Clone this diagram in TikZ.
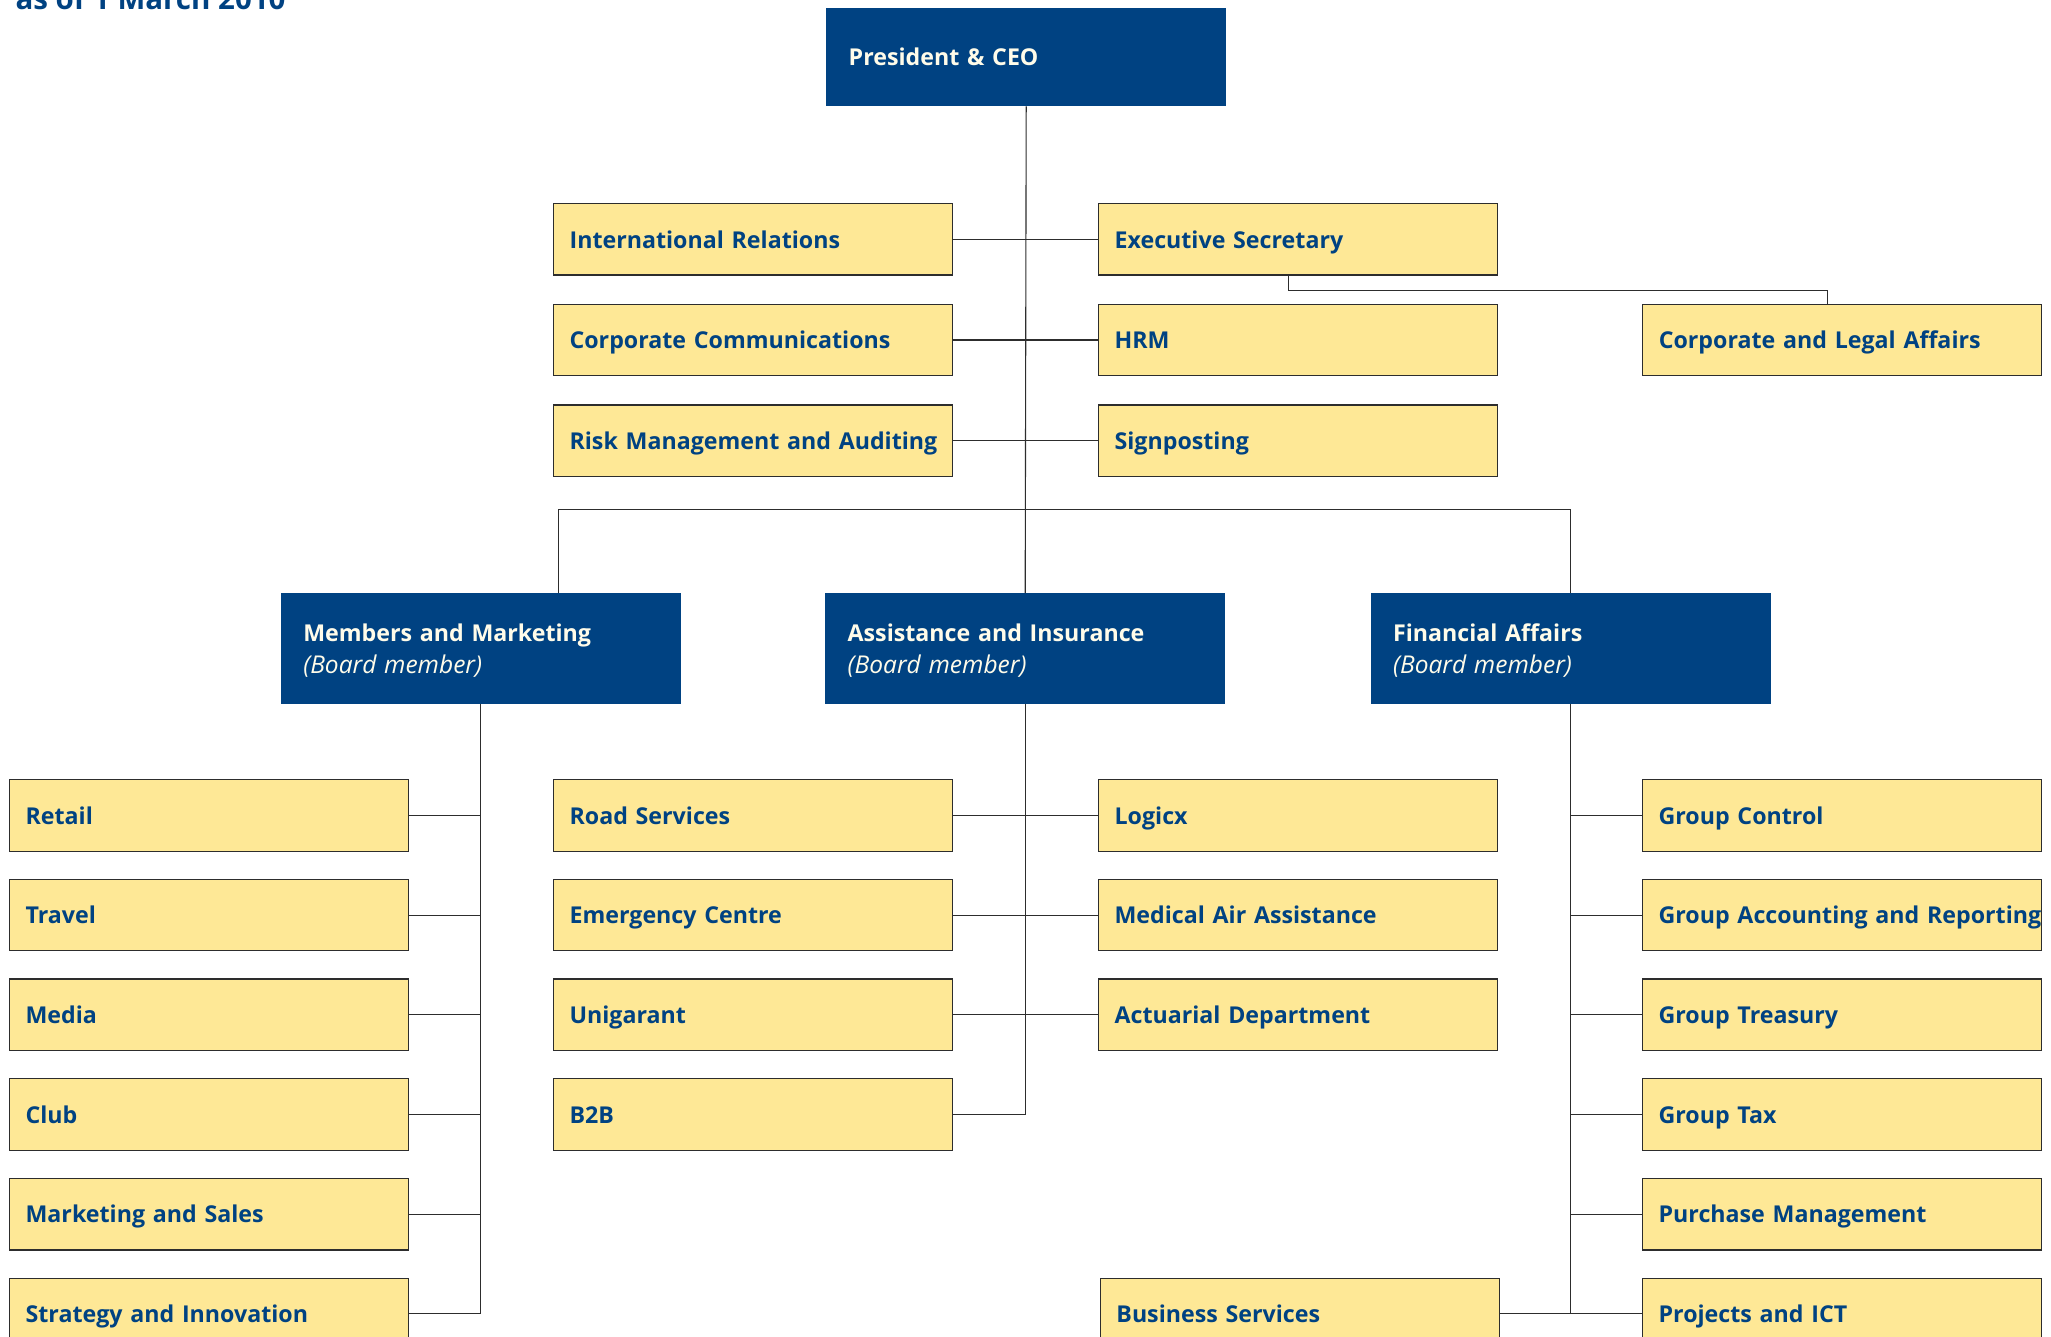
\documentclass[tikz,border=0pt]{standalone}
\usepackage{fontspec}
\setmainfont{Open Sans}
\usepackage{tikz}
\usetikzlibrary{positioning,calc}
\definecolor{adacblue}{RGB}{0,66,130}
\definecolor{unityellow}{RGB}{254,232,150}
\definecolor{headtext}{RGB}{255,252,234}
\definecolor{linegray}{RGB}{45,45,45}

\begin{document}
\begin{tikzpicture}[
    x=1pt, y=-1pt,
    unit/.style={draw=linegray, line width=1.2pt, fill=unityellow, text=adacblue, minimum height=71.5pt, text width=367pt, text height=17.5pt, text depth=0pt, inner xsep=16pt, align=left, font=\bfseries\fontsize{23.2}{27}\selectfont},
    head/.style={fill=adacblue, text=headtext, minimum height=#1, text width=355pt, inner xsep=22.5pt, align=left, font=\fontsize{23.2}{31.5}\selectfont},
    board/.style={head=111pt, text height=21pt, text depth=34.5pt},
    link/.style={draw=linegray, line width=1.1pt},
]
    \useasboundingbox (0,0) rectangle (2051,1337);

    \node[anchor=base west, text=adacblue, font=\bfseries\fontsize{29.5}{34}\selectfont] (asof) at (12,10) {as of 1 March 2010};

    \node[head=98pt, anchor=north west] (ceo) at (826,8) {\textbf{President \& CEO}};

    \node[unit, anchor=north west] (intrel) at (553,203) {International Relations};
    \node[unit, below=28pt of intrel] (corpcomm) {Corporate Communications};
    \node[unit, below=28pt of corpcomm] (riskaudit) {\mbox{Risk Management and Auditing}};

    \node[unit, anchor=north west] (execsec) at (1098,203) {Executive Secretary};
    \node[unit, below=28pt of execsec] (hrm) {HRM};
    \node[unit, below=28pt of hrm] (signpost) {Signposting};
    \node[unit, right=144pt of hrm] (corplegal) {Corporate and Legal Affairs};

    \node[board, anchor=north west] (ai) at (825,593) {\textbf{Assistance and Insurance}\\{\itshape\fontsize{24.5}{31.5}\selectfont (Board member)}};
    \node[board, left=144pt of ai] (mm) {\textbf{Members and Marketing}\\{\itshape\fontsize{24.5}{31.5}\selectfont (Board member)}};
    \node[board, right=145pt of ai] (fa) {\textbf{Financial Affairs}\\{\itshape\fontsize{24.5}{31.5}\selectfont (Board member)}};

    \node[unit, anchor=north west] (retail) at (9,779) {Retail};
    \node[unit, below=27pt of retail] (travel) {Travel};
    \node[unit, below=27pt of travel] (media) {Media};
    \node[unit, below=27pt of media] (club) {Club};
    \node[unit, below=27pt of club] (mktsales) {Marketing and Sales};
    \node[unit, below=27pt of mktsales] (strategy) {Strategy and Innovation};

    \node[unit, anchor=north west] (roadserv) at (553,779) {Road Services};
    \node[unit, below=27pt of roadserv] (emergency) {Emergency Centre};
    \node[unit, below=27pt of emergency] (unigarant) {Unigarant};
    \node[unit, below=27pt of unigarant] (btob) {B2B};

    \node[unit, anchor=north west] (logicx) at (1098,779) {Logicx};
    \node[unit, below=27pt of logicx] (medair) {Medical Air Assistance};
    \node[unit, below=27pt of medair] (actuarial) {Actuarial Department};

    \node[unit, anchor=north west] (grpcontrol) at (1642,779) {Group Control};
    \node[unit, below=27pt of grpcontrol] (grpacc) {\mbox{Group Accounting and Reporting}};
    \node[unit, below=27pt of grpacc] (grptreas) {Group Treasury};
    \node[unit, below=27pt of grptreas] (grptax) {Group Tax};
    \node[unit, below=27pt of grptax] (purchase) {Purchase Management};
    \node[unit, below=27pt of purchase] (projict) {Projects and ICT};
    \node[unit, left=142pt of projict] (bizserv) {Business Services};

    \coordinate (bar) at (1025,509.5);

    \draw[link] (ceo.south) -- (ai.north);
    \foreach \l/\r in {intrel/execsec, corpcomm/hrm, riskaudit/signpost}
        \draw[link] (\l.east) -- (\r.west);
    \draw[link] ([xshift=-10pt]execsec.south) -- ++(0,15) -| ([xshift=-15pt]corplegal.north);
    \draw[link] ([xshift=78pt]mm.north) |- (bar) -| (fa.north);

    \draw[link] (mm.south) |- (strategy.east);
    \foreach \u in {retail, travel, media, club, mktsales}
        \draw[link] (\u.east) -- (\u.east -| mm.south);

    \draw[link] (ai.south) |- (btob.east);
    \foreach \l/\r in {roadserv/logicx, emergency/medair, unigarant/actuarial}
        \draw[link] (\l.east) -- (\r.west);

    \draw[link] (fa.south) -- (fa.south |- projict.west);
    \draw[link] (bizserv.east) -- (projict.west);
    \foreach \u in {grpcontrol, grpacc, grptreas, grptax, purchase}
        \draw[link] (\u.west) -- (\u.west -| fa.south);
\end{tikzpicture}
\end{document}
